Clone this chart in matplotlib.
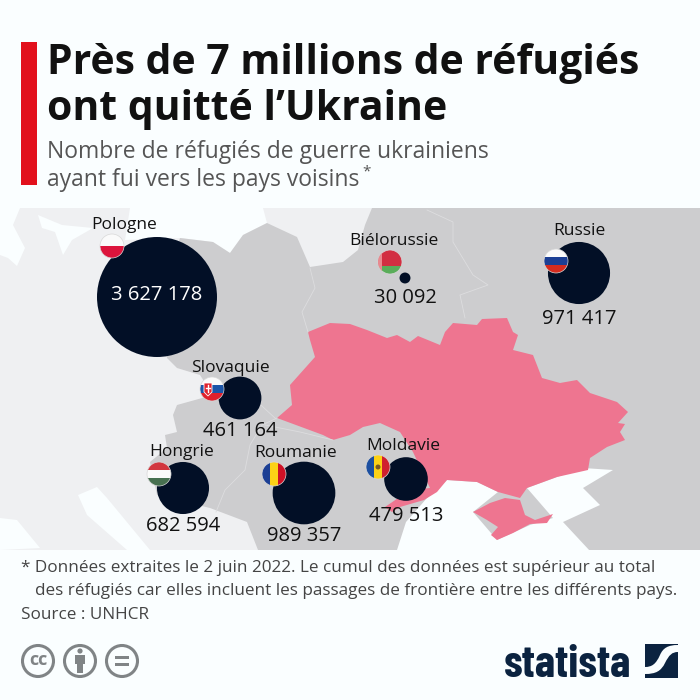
import matplotlib
matplotlib.use("Agg")
import matplotlib.pyplot as plt
from matplotlib.patches import Circle, Polygon, Rectangle, PathPatch
from matplotlib.path import Path

# refugees per neighbouring country
countries = ["Pologne", "Russie", "Biélorussie", "Slovaquie", "Hongrie", "Roumanie", "Moldavie"]
refugees = [3627178, 971417, 30092, 461164, 682594, 989357, 479513]
bubble_x = [157, 579, 405, 240, 183, 304, 406]
bubble_y = [297, 273, 278, 398, 488, 493, 479]
flag_x = [112, 556, 390, 212, 159, 274, 378]
flag_y = [246, 261, 262, 389, 474, 474, 467]
name_x = [124, 579, 394, 230, 182, 296, 403]
name_y = [225, 231, 241, 368, 452, 453, 446]
value_x = [157, 579, 405, 240, 183, 304, 406]
value_y = [295, 319, 298, 431, 526, 536, 516]

BG = "#fafeff"
NAVY = "#020f26"
LIGHT = "#eff0f2"
GRAY = "#cdcdcf"
PINK = "#ee7590"
FONT = "Open Sans"

# map outlines, in pixels of the picture
land_gray = [(180, 238), (213, 242), (230, 253), (243, 235), (267, 223), (297, 237), (310, 267), (343, 262),
             (358, 250), (365, 225), (372, 208), (700, 208), (700, 550), (258, 550),
             (247, 522), (210, 508), (157, 495), (150, 462), (167, 448), (165, 435), (177, 432), (173, 415),
             (177, 405), (213, 395), (200, 375), (177, 368), (167, 358), (160, 300)]
baltic = [(130, 208), (263, 208), (267, 223), (243, 235), (230, 253), (213, 242), (180, 238), (125, 240)]
north_sea = [(0, 208), (20, 208), (13, 225), (25, 248), (17, 266), (8, 258), (0, 255)]
danish_straits = [(38, 215), (62, 225), (93, 228), (72, 240), (63, 255), (55, 232), (42, 228)]
sea_south = [(397, 550), (406, 522), (427, 498), (447, 480), (477, 482), (498, 492), (473, 512), (497, 540),
             (530, 525), (553, 518), (527, 488), (557, 477), (583, 468), (613, 470), (583, 488), (600, 505),
             (563, 522), (590, 551), (397, 551)]
adriatic_1 = [(0, 518), (17, 520), (40, 548), (0, 550)]
adriatic_2 = [(78, 495), (97, 487), (107, 498), (150, 550), (127, 550), (87, 515)]
ukraine = [(308, 332), (330, 323), (350, 324), (367, 330), (387, 338), (397, 335), (410, 342), (418, 336), (440, 345),
           (445, 332), (453, 323), (477, 325), (482, 319), (507, 318), (513, 332), (518, 335), (513, 350),
           (533, 355), (542, 378), (560, 383), (577, 380), (590, 393), (617, 402), (628, 412), (618, 423),
           (625, 424), (620, 432), (625, 440), (607, 447), (590, 458), (588, 470), (557, 477), (527, 488),
           (520, 498), (498, 492), (477, 482), (447, 480), (437, 492), (424, 500), (400, 507), (392, 512),
           (385, 507), (410, 490), (430, 488), (413, 452), (400, 432), (380, 423), (363, 427), (350, 435),
           (333, 440), (323, 435), (277, 418), (292, 405), (290, 385), (315, 357), (310, 340)]
crimea = [(473, 512), (490, 503), (505, 498), (520, 500), (525, 515), (535, 520), (553, 514), (547, 523), (530, 524),
          (513, 533), (497, 540), (491, 535), (498, 527), (487, 520)]
borders = [
    [(310, 268), (315, 288), (302, 312), (308, 332)],
    [(276, 419), (250, 395), (215, 395)],
    [(277, 418), (262, 425), (250, 445), (245, 470), (225, 490), (216, 512)],
    [(333, 440), (300, 432), (265, 425)],
    [(427, 210), (453, 222), (453, 242), (473, 275), (488, 285), (460, 295), (465, 318)],
]

fig = plt.figure(figsize=(7, 7), dpi=100, facecolor=BG)
ax = fig.add_axes([0, 0, 1, 1])
ax.set_xlim(0, 700)
ax.set_ylim(700, 0)
ax.axis("off")

# map
ax.add_patch(Rectangle((0, 208), 700, 342, fc=LIGHT, ec="none"))
for sea in [baltic, north_sea, danish_straits, adriatic_1, adriatic_2]:
    ax.add_patch(Polygon(sea, fc=BG, ec="none"))
ax.add_patch(Polygon(land_gray, fc=GRAY, ec="none"))
ax.add_patch(Polygon(sea_south, fc=BG, ec="none"))
ax.add_patch(Polygon(ukraine, fc=PINK, ec="none"))
ax.add_patch(Polygon(crimea, fc=PINK, ec="none"))
for line in borders:
    ax.plot([p[0] for p in line], [p[1] for p in line], color="#dddddf", lw=0.6, zorder=2)


def draw_flag(cx, cy, stripes, vertical=False, r=12):
    clip = Circle((cx, cy), r, transform=ax.transData)
    n = len(stripes)
    for i, c in enumerate(stripes):
        if vertical:
            rect = Rectangle((cx - r + i * 2 * r / n, cy - r), 2 * r / n, 2 * r, fc=c, ec="none", zorder=5)
        else:
            rect = Rectangle((cx - r, cy - r + i * 2 * r / n), 2 * r, 2 * r / n, fc=c, ec="none", zorder=5)
        ax.add_patch(rect)
        rect.set_clip_path(clip)
    ax.add_patch(Circle((cx, cy), r, fc="none", ec="#d8d8d8", lw=0.5, zorder=6))
    return clip


flag_colors = {
    "Pologne": ["#fafafa", "#dc143c"],
    "Russie": ["#fafafa", "#1c3f94", "#d52b1e"],
    "Slovaquie": ["#fafafa", "#1c55a8", "#e0202c"],
    "Hongrie": ["#d2373f", "#fafafa", "#477050"],
}

# bubbles, area follows the number of refugees
for i, name in enumerate(countries):
    r = 60 * (refugees[i] / refugees[0]) ** 0.5
    ax.add_patch(Circle((bubble_x[i], bubble_y[i]), r, fc=NAVY, ec="none", zorder=4))
    if name in flag_colors:
        draw_flag(flag_x[i], flag_y[i], flag_colors[name])
    elif name == "Roumanie":
        draw_flag(flag_x[i], flag_y[i], ["#1c3f94", "#fcd116", "#ce1126"], vertical=True)
    elif name == "Moldavie":
        draw_flag(flag_x[i], flag_y[i], ["#1c4fa0", "#fcd116", "#d0202e"], vertical=True)
        ax.add_patch(Circle((flag_x[i], flag_y[i]), 2.5, fc="#7a5a20", ec="none", zorder=7))
    elif name == "Biélorussie":
        clip = draw_flag(flag_x[i], flag_y[i], ["#d22f42", "#d22f42", "#5aad5a"])
        band = Rectangle((flag_x[i] - 12, flag_y[i] - 12), 4, 24, fc="#e88a90", ec="none", zorder=7)
        ax.add_patch(band)
        band.set_clip_path(clip)
    color = "white" if name == "Pologne" else "#111111"
    ax.text(name_x[i], name_y[i], name, ha="center", va="center", fontsize=12.5, family=FONT, color="#111111", zorder=8)
    ax.text(value_x[i], value_y[i], f"{refugees[i]:,}".replace(",", " "), ha="center", va="center",
            fontsize=14.5, family=FONT, color=color, zorder=8)

# slovak shield
sk = countries.index("Slovaquie")
ax.add_patch(Polygon([(flag_x[sk] - 8, flag_y[sk] - 6), (flag_x[sk], flag_y[sk] - 6), (flag_x[sk], flag_y[sk] + 3),
                      (flag_x[sk] - 4, flag_y[sk] + 7), (flag_x[sk] - 8, flag_y[sk] + 3)], fc="#e0202c", ec="white", lw=0.6, zorder=7))
ax.plot([flag_x[sk] - 4, flag_x[sk] - 4], [flag_y[sk] - 4, flag_y[sk] + 3], color="white", lw=1, zorder=8)
ax.plot([flag_x[sk] - 6, flag_x[sk] - 2], [flag_y[sk] - 1, flag_y[sk] - 1], color="white", lw=1, zorder=8)

# header
ax.add_patch(Rectangle((21, 42), 16, 143, fc="#e2101c", ec="none"))
ax.text(47, 63, "Près de 7 millions de réfugiés", fontsize=29.4, fontweight="bold", family=FONT, color="#111111", va="center")
ax.text(47, 109, "ont quitté l’Ukraine", fontsize=29.4, fontweight="bold", family=FONT, color="#111111", va="center")
ax.text(47, 152, "Nombre de réfugiés de guerre ukrainiens", fontsize=16.45, family=FONT, color="#555555", va="center")
ax.text(47, 180, "ayant fui vers les pays voisins", fontsize=16.45, family=FONT, color="#555555", va="center")
ax.text(362, 172, "*", fontsize=11, family=FONT, color="#555555", va="center")

# footnotes
ax.text(21, 568, "* Données extraites le 2 juin 2022. Le cumul des données est supérieur au total", fontsize=12.35, family=FONT, color="#444444", va="center")
ax.text(35, 591, "des réfugiés car elles incluent les passages de frontière entre les différents pays.", fontsize=12.35, family=FONT, color="#444444", va="center")
ax.text(21, 615, "Source : UNHCR", fontsize=12.35, family=FONT, color="#444444", va="center")

# licence icons
icon_gray = "#808486"
for cx in [38, 80, 122]:
    ax.add_patch(Circle((cx, 661), 15.5, fc="none", ec=icon_gray, lw=2.2))
ax.text(38, 660, "cc", fontsize=13, fontweight="bold", family=FONT, color=icon_gray, ha="center", va="center")
ax.add_patch(Circle((80, 651), 2.6, fc=icon_gray, ec="none"))
ax.add_patch(Rectangle((75, 655), 10, 9, fc=icon_gray, ec="none"))
ax.add_patch(Rectangle((77, 664), 6, 9, fc=icon_gray, ec="none"))
ax.add_patch(Rectangle((115, 655.5), 14, 3, fc=icon_gray, ec="none"))
ax.add_patch(Rectangle((115, 663), 14, 3, fc=icon_gray, ec="none"))

# logo
ax.text(504, 677, "statista", fontsize=32.5, fontweight="bold", family=["Barlow Condensed", "Open Sans"],
        color="#0b2340", ha="left", va="baseline")
ax.add_patch(Rectangle((645, 644), 33, 34, fc="#0b2340", ec="none"))
s_curve = Path([(645, 667), (652, 667), (656, 664), (660, 655), (663, 648), (668, 645), (678, 645),
                (678, 652), (672, 652), (669, 655), (665, 663), (661, 671), (656, 674), (645, 674), (645, 667)],
               [Path.MOVETO, Path.CURVE4, Path.CURVE4, Path.CURVE4, Path.CURVE4, Path.CURVE4, Path.CURVE4,
                Path.LINETO, Path.CURVE4, Path.CURVE4, Path.CURVE4, Path.CURVE4, Path.CURVE4, Path.CURVE4, Path.LINETO])
ax.add_patch(PathPatch(s_curve, fc=BG, ec="none"))

fig.savefig("out.png", dpi=100, facecolor=BG)
